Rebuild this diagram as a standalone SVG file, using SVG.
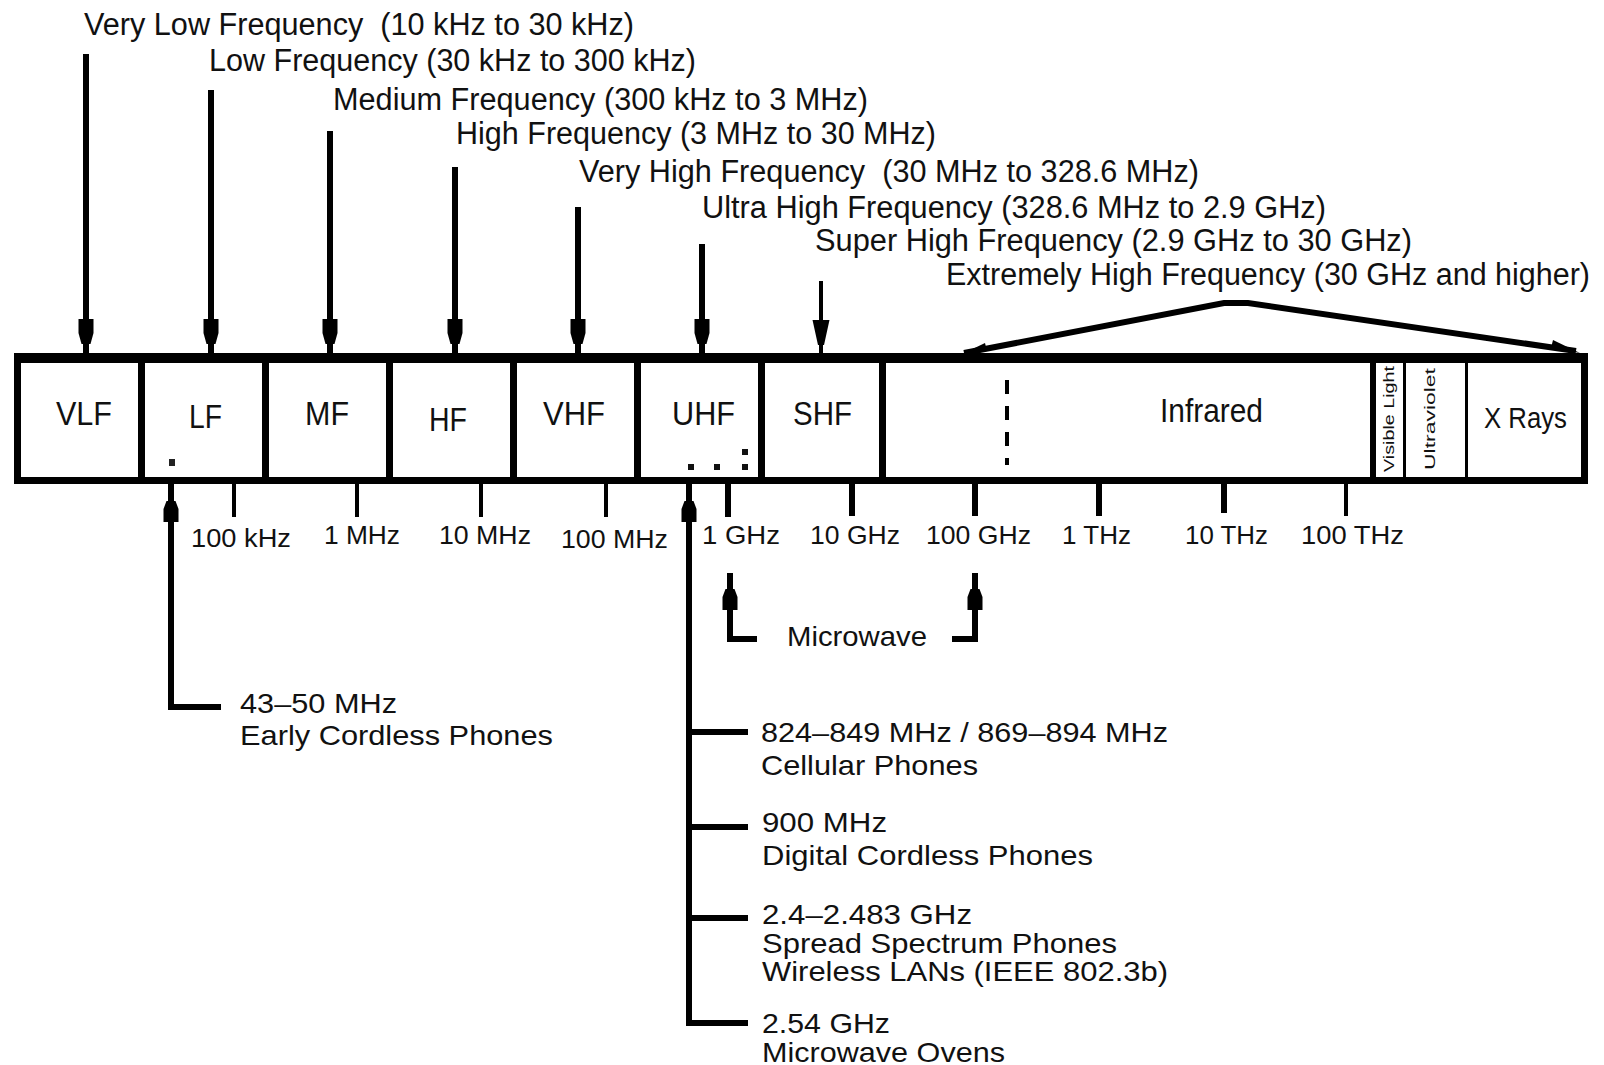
<svg xmlns="http://www.w3.org/2000/svg" width="1604" height="1065" viewBox="0 0 1604 1065">
<style>
.t{font-family:"Liberation Sans",Arial,Helvetica,sans-serif;fill:#111}
.top{font-size:31px;white-space:pre}
.band{font-size:34px}
.tick{font-size:26px}
.lbl{font-size:28px}
.vt{font-size:14px}
.ln{stroke:#000;stroke-width:6;fill:none}
.thin{stroke:#000;stroke-width:4;fill:none}
.ah{fill:#000}
</style>
<defs>
<path id="adown" d="M-7.5,-26 H7.5 V-12 L4.5,-1 H-4.5 L-7.5,-12 Z"/>
<path id="aup" d="M-4.5,0 H4.5 L7.5,8 V21 H-7.5 V8 Z"/>
<path id="atri" d="M-8.5,-25 H8.5 L3,0 H-3 Z"/>
</defs>
<rect width="1604" height="1065" fill="#fff"/>

<!-- spectrum bar -->
<g id="bar">
<rect x="14" y="353" width="1574" height="131" fill="#000"/>
<rect x="21" y="363" width="1560" height="114" fill="#fff"/>
<rect x="138" y="360" width="7" height="120" fill="#000"/>
<rect x="262" y="360" width="7" height="120" fill="#000"/>
<rect x="386" y="360" width="7" height="120" fill="#000"/>
<rect x="510" y="360" width="7" height="120" fill="#000"/>
<rect x="634" y="360" width="7" height="120" fill="#000"/>
<rect x="758" y="360" width="7" height="120" fill="#000"/>
<rect x="879" y="360" width="7" height="120" fill="#000"/>
<rect x="1370" y="360" width="6" height="120" fill="#000"/>
<rect x="1403" y="360" width="3" height="120" fill="#000"/>
<rect x="1465" y="360" width="3" height="120" fill="#000"/>
<line x1="1007" y1="380" x2="1007" y2="465" stroke="#000" stroke-width="4" stroke-dasharray="14 12"/>
</g>
<g id="vlf"><text class="t band" x="56" y="425" textLength="56" lengthAdjust="spacingAndGlyphs">VLF</text></g>
<g id="lf"><text class="t band" x="189" y="428" textLength="33" lengthAdjust="spacingAndGlyphs">LF</text><rect x="169" y="459" width="6" height="7" fill="#222"/></g>
<g id="mf"><text class="t band" x="305" y="425" textLength="44" lengthAdjust="spacingAndGlyphs">MF</text></g>
<g id="hf"><text class="t band" x="429" y="431" textLength="38" lengthAdjust="spacingAndGlyphs">HF</text></g>
<g id="vhf"><text class="t band" x="543" y="425" textLength="62" lengthAdjust="spacingAndGlyphs">VHF</text></g>
<g id="uhf"><text class="t band" x="672" y="425" textLength="63" lengthAdjust="spacingAndGlyphs">UHF</text>
<rect x="688" y="464" width="6" height="6" fill="#111"/><rect x="714" y="464" width="6" height="6" fill="#111"/><rect x="742" y="464" width="6" height="6" fill="#111"/><rect x="742" y="449" width="6" height="6" fill="#111"/></g>
<g id="shf"><text class="t band" x="793" y="425" textLength="59" lengthAdjust="spacingAndGlyphs">SHF</text></g>
<g id="infrared"><text class="t band" x="1160" y="422" textLength="103" lengthAdjust="spacingAndGlyphs">Infrared</text></g>
<g id="visible"><text class="t vt" transform="translate(1394,419) rotate(-90)" text-anchor="middle" textLength="106" lengthAdjust="spacingAndGlyphs">Visible Light</text></g>
<g id="ultraviolet"><text class="t vt" transform="translate(1435,419) rotate(-90)" text-anchor="middle" textLength="102" lengthAdjust="spacingAndGlyphs">Ultraviolet</text></g>
<g id="xrays"><text class="t" style="font-size:29px" x="1484" y="428" textLength="83" lengthAdjust="spacingAndGlyphs">X Rays</text></g>

<!-- top labels -->
<g id="lbl-vlf"><text class="t top" x="84" y="35" textLength="550" lengthAdjust="spacingAndGlyphs">Very Low Frequency  (10 kHz to 30 kHz)</text></g>
<g id="lbl-lf"><text class="t top" x="209" y="71" textLength="487" lengthAdjust="spacingAndGlyphs">Low Frequency (30 kHz to 300 kHz)</text></g>
<g id="lbl-mf"><text class="t top" x="333" y="110" textLength="535" lengthAdjust="spacingAndGlyphs">Medium Frequency (300 kHz to 3 MHz)</text></g>
<g id="lbl-hf"><text class="t top" x="456" y="144" textLength="480" lengthAdjust="spacingAndGlyphs">High Frequency (3 MHz to 30 MHz)</text></g>
<g id="lbl-vhf"><text class="t top" x="579" y="182" textLength="620" lengthAdjust="spacingAndGlyphs">Very High Frequency  (30 MHz to 328.6 MHz)</text></g>
<g id="lbl-uhf"><text class="t top" x="702" y="218" textLength="624" lengthAdjust="spacingAndGlyphs">Ultra High Frequency (328.6 MHz to 2.9 GHz)</text></g>
<g id="lbl-shf"><text class="t top" x="815" y="251" textLength="597" lengthAdjust="spacingAndGlyphs">Super High Frequency (2.9 GHz to 30 GHz)</text></g>
<g id="lbl-ehf"><text class="t top" x="946" y="285" textLength="644" lengthAdjust="spacingAndGlyphs">Extremely High Frequency (30 GHz and higher)</text></g>

<!-- tick labels -->
<g id="ticks">
<text class="t tick" x="191" y="547" textLength="100" lengthAdjust="spacingAndGlyphs">100 kHz</text>
<text class="t tick" x="324" y="544" textLength="76" lengthAdjust="spacingAndGlyphs">1 MHz</text>
<text class="t tick" x="439" y="544" textLength="92" lengthAdjust="spacingAndGlyphs">10 MHz</text>
<text class="t tick" x="561" y="548" textLength="107" lengthAdjust="spacingAndGlyphs">100 MHz</text>
<text class="t tick" x="702" y="544" textLength="78" lengthAdjust="spacingAndGlyphs">1 GHz</text>
<text class="t tick" x="810" y="544" textLength="90" lengthAdjust="spacingAndGlyphs">10 GHz</text>
<text class="t tick" x="926" y="544" textLength="105" lengthAdjust="spacingAndGlyphs">100 GHz</text>
<text class="t tick" x="1062" y="544" textLength="69" lengthAdjust="spacingAndGlyphs">1 THz</text>
<text class="t tick" x="1185" y="544" textLength="83" lengthAdjust="spacingAndGlyphs">10 THz</text>
<text class="t tick" x="1301" y="544" textLength="103" lengthAdjust="spacingAndGlyphs">100 THz</text>
</g>

<!-- application labels -->
<g id="app-early"><text class="t lbl" x="240" y="713" textLength="157" lengthAdjust="spacingAndGlyphs">43–50 MHz</text><text class="t lbl" x="240" y="745" textLength="313" lengthAdjust="spacingAndGlyphs">Early Cordless Phones</text></g>
<g id="app-cell"><text class="t lbl" x="761" y="742" textLength="407" lengthAdjust="spacingAndGlyphs">824–849 MHz / 869–894 MHz</text><text class="t lbl" x="761" y="775" textLength="217" lengthAdjust="spacingAndGlyphs">Cellular Phones</text></g>
<g id="app-dect"><text class="t lbl" x="762" y="832" textLength="125" lengthAdjust="spacingAndGlyphs">900 MHz</text><text class="t lbl" x="762" y="865" textLength="331" lengthAdjust="spacingAndGlyphs">Digital Cordless Phones</text></g>
<g id="app-ss"><text class="t lbl" x="762" y="924" textLength="210" lengthAdjust="spacingAndGlyphs">2.4–2.483 GHz</text><text class="t lbl" x="762" y="953" textLength="355" lengthAdjust="spacingAndGlyphs">Spread Spectrum Phones</text><text class="t lbl" x="762" y="981" textLength="406" lengthAdjust="spacingAndGlyphs">Wireless LANs (IEEE 802.3b)</text></g>
<g id="app-oven"><text class="t lbl" x="762" y="1033" textLength="128" lengthAdjust="spacingAndGlyphs">2.54 GHz</text><text class="t lbl" x="762" y="1062" textLength="243" lengthAdjust="spacingAndGlyphs">Microwave Ovens</text></g>
<g id="microwave"><text class="t lbl" x="787" y="646" textLength="140" lengthAdjust="spacingAndGlyphs">Microwave</text></g>

<!-- connectors -->
<g id="connectors">
<line class="ln" x1="86" y1="54" x2="86" y2="355"/><use href="#adown" x="86" y="345" class="ah"/>
<line class="ln" x1="211" y1="90" x2="211" y2="355"/><use href="#adown" x="211" y="345" class="ah"/>
<line class="ln" x1="330" y1="131" x2="330" y2="355"/><use href="#adown" x="330" y="345" class="ah"/>
<line class="ln" x1="455" y1="167" x2="455" y2="355"/><use href="#adown" x="455" y="345" class="ah"/>
<line class="ln" x1="578" y1="207" x2="578" y2="355"/><use href="#adown" x="578" y="345" class="ah"/>
<line class="ln" x1="702" y1="244" x2="702" y2="355"/><use href="#adown" x="702" y="345" class="ah"/>
<line class="thin" x1="821" y1="281" x2="821" y2="355"/><use href="#atri" x="821" y="345" class="ah"/>
<polyline class="ln" points="964,353 1224,303 1248,303 1576,351" stroke-width="6" stroke-linejoin="miter"/>
<path class="ah" d="M960,355 L985,343 L987,351 Z"/>
<path class="ah" d="M1580,353 L1553,340 L1551,348 Z"/>
<!-- ticks -->
<line class="thin" stroke-width="5" x1="234" y1="482" x2="234" y2="517"/>
<line class="thin" stroke-width="5" x1="357" y1="482" x2="357" y2="517"/>
<line class="thin" stroke-width="5" x1="481" y1="482" x2="481" y2="517"/>
<line class="thin" stroke-width="5" x1="606" y1="482" x2="606" y2="517"/>
<line class="ln" x1="728" y1="482" x2="728" y2="517"/>
<line class="ln" x1="852" y1="482" x2="852" y2="516"/>
<line class="ln" x1="975" y1="482" x2="975" y2="516"/>
<line class="ln" x1="1099" y1="482" x2="1099" y2="516"/>
<line class="ln" x1="1224" y1="482" x2="1224" y2="513"/>
<line class="thin" x1="1346" y1="482" x2="1346" y2="516"/>
<!-- early cordless -->
<polyline class="ln" points="171,482 171,707 221,707"/><use href="#aup" x="171" y="501" class="ah"/>
<!-- UHF applications -->
<polyline class="ln" points="689,482 689,1023 748,1023"/><use href="#aup" x="689" y="501" class="ah"/>
<line class="ln" x1="689" y1="732" x2="748" y2="732"/>
<line class="ln" x1="689" y1="827" x2="748" y2="827"/>
<line class="ln" x1="689" y1="918" x2="748" y2="918" stroke-width="8"/>
<!-- microwave bracket -->
<polyline class="ln" points="730,573 730,639 757,639"/><use href="#aup" x="730" y="589" class="ah"/>
<polyline class="ln" points="952,639 975,639 975,573"/><use href="#aup" x="975" y="589" class="ah"/>
</g>
</svg>
